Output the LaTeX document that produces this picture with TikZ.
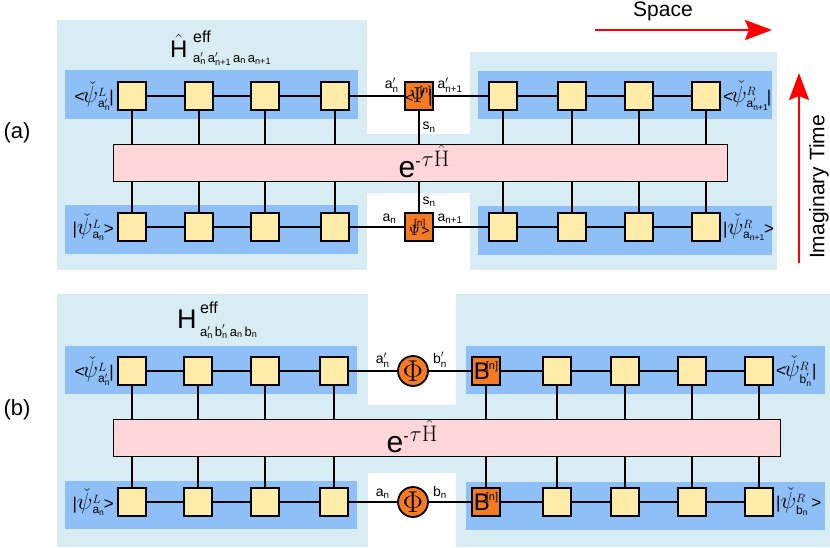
\documentclass[tikz,border=0pt]{standalone}
\usepackage{amsmath}
\usepackage{graphicx}
\usepackage[no-math]{fontspec}
\setmainfont{Liberation Sans}
\usetikzlibrary{positioning, calc, arrows.meta}
\definecolor{tnSky}{HTML}{D7EDF3}
\definecolor{tnBlue}{HTML}{8EBFF7}
\definecolor{tnSite}{HTML}{FFECA8}
\definecolor{tnPink}{HTML}{FFD6D9}
\definecolor{tnOrange}{HTML}{F47B22}
\definecolor{tnRed}{HTML}{FF0000}
\newcommand{\tn}[1]{\text{#1}}
\newcommand{\fs}[1]{\fontsize{#1}{#1}\selectfont}
\newcommand{\bigpsi}{\scalebox{1.35}{$\check{\psi}$}}

\tikzset{
  site/.style={draw, line width=1.8pt, fill=tnSite, minimum size=28pt, inner sep=0pt},
  mid/.style={site, fill=tnOrange},
  phi/.style={circle, draw, line width=1.8pt, fill=tnOrange, minimum size=30pt, inner sep=0pt, font=\fs{20}},
  bond/.style={line width=1.3pt},
  gate/.style={draw, line width=1.6pt, fill=tnPink, minimum height=37pt, inner sep=0pt},
  idx/.style={font=\fs{14}, inner sep=0pt},
  state/.style={font=\fs{17}, inner sep=0pt},
  axis/.style={tnRed, line width=2pt, -{Stealth[length=27pt, width=20pt, inset=4pt]}},
}

\begin{document}
\begin{tikzpicture}[x=1pt, y=-1pt]
\useasboundingbox (0,0) rectangle (830,547);

% Environment blocks
\fill[tnSky] (57,20) rectangle (367,270);
\fill[tnSky] (470,52) rectangle (777,270);
\fill[tnSky] (366,134) rectangle (471,193);
\fill[tnSky] (57,294) rectangle (368,547);
\fill[tnSky] (456,294) rectangle (830,547);
\fill[tnSky] (367,405) rectangle (457,473);

% Strips behind the chains
\fill[tnBlue] (65,70) rectangle (358,119);
\fill[tnBlue] (65,205) rectangle (358,254);
\fill[tnBlue] (478,71) rectangle (772,119);
\fill[tnBlue] (478,206) rectangle (772,255);
\fill[tnBlue] (65,346) rectangle (357,394);
\fill[tnBlue] (65,481) rectangle (357,529);
\fill[tnBlue] (466,346) rectangle (825,394);
\fill[tnBlue] (466,482) rectangle (825,530);

% Panel labels
\node[font=\fs{22}] (tagA) at (17,133) {(a)};
\node[font=\fs{22}] (tagB) at (17,410) {(b)};

% Effective Hamiltonians
\node[anchor=base west, inner sep=0pt, font=\fs{24}] (hA) at (170,57) {$\hat{\tn{H}}$};
\node[anchor=base west, inner sep=0pt, font=\fs{16}] (hAsup) at (193,42) {eff};
\node[anchor=base west, inner sep=0pt, font=\fs{13}] (hAsub) at (193,62)
  {$\tn{a}'_{\tn{n}}\,\tn{a}'_{\tn{n+1}}\,\tn{a}_{\tn{n}}\,\tn{a}_{\tn{n+1}}$};
\node[anchor=base west, inner sep=0pt, font=\fs{27}] (hB) at (177,328) {H};
\node[anchor=base west, inner sep=0pt, font=\fs{16}] (hBsup) at (200,313) {eff};
\node[anchor=base west, inner sep=0pt, font=\fs{13}] (hBsub) at (200,336)
  {$\tn{a}'_{\tn{n}}\,\tn{b}'_{\tn{n}}\,\tn{a}_{\tn{n}}\,\tn{b}_{\tn{n}}$};

% Evolution operators
\node[gate, minimum width=614pt] (gateA) at (420.5,163) {};
\node[gate, minimum width=667pt] (gateB) at (447,438) {};
\node[anchor=base, inner sep=0pt, font=\fs{30}] (expA) at (424,177)
  {e\raisebox{11pt}{\fs{16}-\hspace{1pt}\scalebox{1.3}{$\tau\hat{\mathrm{H}}$}}};
\node[anchor=base, inner sep=0pt, font=\fs{30}] (expB) at (412,452)
  {e\raisebox{11pt}{\fs{16}-\hspace{1pt}\scalebox{1.3}{$\tau\hat{\mathrm{H}}$}}};

% Panel (a) sites
\foreach \i/\x in {1/132,2/199,3/265,4/335}{
  \node[site] (aTL\i) at (\x,96) {};
  \node[site] (aBL\i) at (\x,227) {};
}
\foreach \i/\x in {1/503,2/572,3/639,4/706}{
  \node[site] (aTR\i) at (\x,96) {};
  \node[site] (aBR\i) at (\x,227) {};
}
\node[mid] (aTM) at (419,96)
  {\makebox[0pt]{\fs{14}<\hspace{-4pt}\scalebox{1.5}{$\Psi$}\hspace{-6pt}\raisebox{9pt}{\fs{10}[n]}\hspace{-3pt}\fs{18}|}};
\node[mid] (aBM) at (419,227)
  {\makebox[0pt]{\scalebox{1.5}{$\Psi$}\hspace{-6pt}\raisebox{9pt}{\fs{10}[n]}\hspace{-4pt}\fs{14}>}};

% Panel (b) sites
\foreach \i/\x in {1/132,2/198,3/265,4/334}{
  \node[site] (bTL\i) at (\x,371) {};
  \node[site] (bBL\i) at (\x,502) {};
}
\foreach \i/\x in {1/557,2/625,3/692,4/759}{
  \node[site] (bTR\i) at (\x,371) {};
  \node[site] (bBR\i) at (\x,502) {};
}
\node[mid] (bTB) at (486,371)
  {\makebox[0pt]{\fs{24}B\hspace{-4pt}\raisebox{10pt}{\fs{11}[n]}}};
\node[mid] (bBB) at (486,502)
  {\makebox[0pt]{\fs{24}B\hspace{-4pt}\raisebox{10pt}{\fs{11}[n]}}};
\node[phi] (bTP) at (413,371) {\scalebox{1.45}{$\Phi$}};
\node[phi] (bBP) at (413,502) {\scalebox{1.45}{$\Phi$}};

% Legs into the operators
\foreach \s in {aTL1,aTL2,aTL3,aTL4,aTR1,aTR2,aTR3,aTR4}{
  \draw[bond] (\s) -- (\s |- gateA.north);
}
\foreach \s in {aBL1,aBL2,aBL3,aBL4,aBR1,aBR2,aBR3,aBR4}{
  \draw[bond] (\s) -- (\s |- gateA.south);
}
\foreach \s in {bTL1,bTL2,bTL3,bTL4,bTB,bTR1,bTR2,bTR3,bTR4}{
  \draw[bond] (\s) -- (\s |- gateB.north);
}
\foreach \s in {bBL1,bBL2,bBL3,bBL4,bBB,bBR1,bBR2,bBR3,bBR4}{
  \draw[bond] (\s) -- (\s |- gateB.south);
}
\draw[bond] (aTM) -- node[idx, right=3pt] {$\tn{s}_{\tn{n}}$} (aTM |- gateA.north);
\draw[bond] (aBM |- gateA.south) -- node[idx, right=3pt, pos=0.65] {$\tn{s}_{\tn{n}}$} (aBM);

% Chains of panel (a)
\draw[bond] (aTL1) -- (aTL2) -- (aTL3) -- (aTL4);
\draw[bond] (aTL4) -- node[idx, above=3pt, pos=0.77] {$\tn{a}'_{\tn{n}}$} (aTM);
\draw[bond] (aTM) -- node[idx, above=3pt, pos=0.3] {$\tn{a}'_{\tn{n+1}}$} (aTR1);
\draw[bond] (aTR1) -- (aTR2) -- (aTR3) -- (aTR4);
\draw[bond] (aBL1) -- (aBL2) -- (aBL3) -- (aBL4);
\draw[bond] (aBL4) -- node[idx, above=3pt, pos=0.73] {$\tn{a}_{\tn{n}}$} (aBM);
\draw[bond] (aBM) -- node[idx, above=3pt, pos=0.3] {$\tn{a}_{\tn{n+1}}$} (aBR1);
\draw[bond] (aBR1) -- (aBR2) -- (aBR3) -- (aBR4);

% Chains of panel (b)
\draw[bond] (bTL1) -- (bTL2) -- (bTL3) -- (bTL4);
\draw[bond] (bTL4) -- node[idx, above=3pt, pos=0.7] {$\tn{a}'_{\tn{n}}$} (bTP);
\draw[bond] (bTP) -- node[idx, above=3pt, pos=0.26] {$\tn{b}'_{\tn{n}}$} (bTB);
\draw[bond] (bTB) -- (bTR1) -- (bTR2) -- (bTR3) -- (bTR4);
\draw[bond] (bBL1) -- (bBL2) -- (bBL3) -- (bBL4);
\draw[bond] (bBL4) -- node[idx, above=3pt, pos=0.7] {$\tn{a}_{\tn{n}}$} (bBP);
\draw[bond] (bBP) -- node[idx, above=3pt, pos=0.26] {$\tn{b}_{\tn{n}}$} (bBB);
\draw[bond] (bBB) -- (bBR1) -- (bBR2) -- (bBR3) -- (bBR4);

% Boundary states
\node[state, left=3pt of aTL1] (psiaTL) {<\hspace{-2pt}\bigpsi$^{L}_{\tn{a}'_{\tn{n}}}$\hspace{-1pt}|};
\node[state, left=3pt of aBL1] (psiaBL) {|\bigpsi$^{L}_{\tn{a}_{\tn{n}}}$\hspace{-1pt}>};
\node[state, right=2pt of aTR4] (psiaTR) {<\hspace{-2pt}\bigpsi$^{R}_{\tn{a}'_{\tn{n+1}}}$\hspace{-2pt}|};
\node[state, right=2pt of aBR4] (psiaBR) {|\bigpsi$^{R}_{\tn{a}_{\tn{n+1}}}$\hspace{-1pt}>};
\node[state, left=3pt of bTL1] (psibTL) {<\hspace{-2pt}\bigpsi$^{L}_{\tn{a}'_{\tn{n}}}$\hspace{-1pt}|};
\node[state, left=3pt of bBL1] (psibBL) {|\bigpsi$^{L}_{\tn{a}_{\tn{n}}}$\hspace{-1pt}>};
\node[state, right=2pt of bTR4] (psibTR) {<\hspace{-2pt}\bigpsi$^{R}_{\tn{b}'_{\tn{n}}}$|};
\node[state, right=2pt of bBR4] (psibBR) {|\bigpsi$^{R}_{\tn{b}_{\tn{n}}}$\,>};

% Axes
\coordinate (spaceL) at (595,30);
\coordinate (spaceR) at (772,30);
\draw[axis] (spaceL) -- (spaceR);
\node[font=\fs{21}] (spaceT) at (663,11) {Space};
\coordinate (timeB) at (799,263);
\coordinate (timeT) at (799,73);
\draw[axis] (timeB) -- (timeT);
\node[font=\fs{21}, rotate=90] (timeTxt) at (819,187) {Imaginary Time};
\end{tikzpicture}
\end{document}
